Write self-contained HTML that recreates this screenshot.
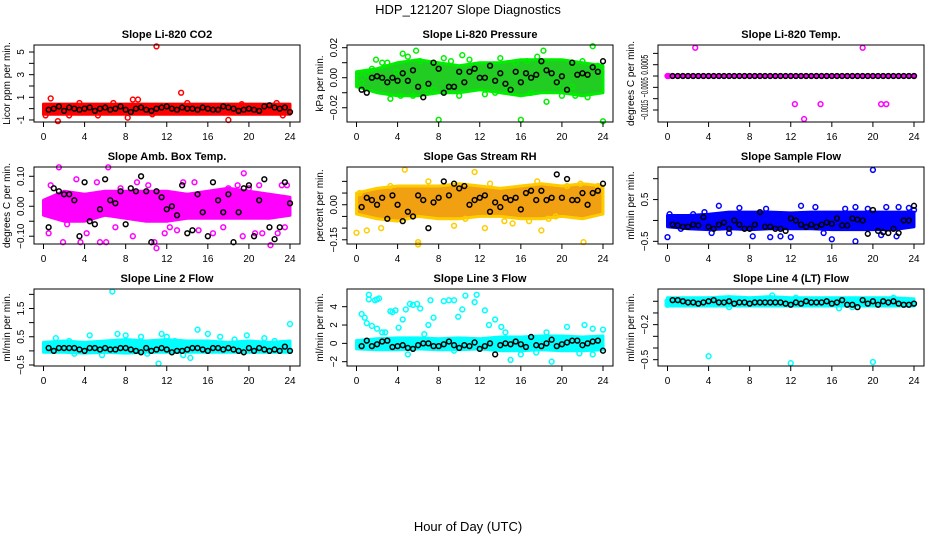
<!DOCTYPE html>
<html><head><meta charset="utf-8"><style>
body{margin:0;background:#fff;}
svg{display:block;font-family:"Liberation Sans",Arial,sans-serif;}
</style></head><body>
<svg id="chart" width="936" height="540" viewBox="0 0 936 540">
<text x="468" y="14" text-anchor="middle" font-size="13">HDP_121207  Slope Diagnostics</text>
<text x="468" y="531" text-anchor="middle" font-size="13">Hour of Day (UTC)</text>
</svg>
<script>
// ---- data ----
const blackHours=[0.5,1,1.5,2,2.5,3,3.5,4,4.5,5,5.5,6,6.5,7,7.5,8,8.5,9,9.5,10,10.5,11,11.5,12,12.5,13,13.5,14,14.5,15,15.5,16,16.5,17,17.5,18,18.5,19,19.5,20,20.5,21,21.5,22,22.5,23,23.5,24];
const bandHours=[0,2,4,6,8,10,12,14,16,18,20,22,24];
const xTicks=[0,4,8,12,16,20,24];

const p1Black=[-0.1,0,0.2,-0.2,0.1,0,-0.1,0,0.1,-0.2,0,0.1,-0.1,0,0.2,-0.1,-0.3,0,0.1,-0.1,-0.2,0,0.1,0.2,0,-0.1,0.1,0,0,-0.1,0.1,0,-0.1,-0.1,0.2,0.1,0,-0.2,-0.1,0,-0.1,-0.2,0.2,0.3,0.1,0,0.1,-0.3];
const p1BandLo=[-0.5,-0.5,-0.5,-0.5,-0.5,-0.5,-0.5,-0.5,-0.5,-0.5,-0.5,-0.5,-0.5];
const p1BandHi=[0.4,0.4,0.4,0.4,0.4,0.4,0.4,0.4,0.4,0.4,0.4,0.4,0.4];
const p1Hours=[11,13.4,1.4,18,0.7,8.7,9.2,8.2,2.5,5.3,0.2,23.3,10.6,14,19.3,22.7,3.5,6.8];
const p1Vals=[5.5,1.4,-1.1,-1,0.9,0.8,0.8,-0.8,-0.6,-0.6,-0.6,-0.6,-0.5,0.5,0.4,0.5,0.5,0.5];

const p2Black=[-0.008,-0.010,0.000,0.001,0.000,-0.003,0.000,-0.002,0.003,-0.002,0.005,-0.006,-0.013,-0.004,0.010,0.006,-0.010,-0.006,-0.006,0.004,-0.003,0.004,0.006,0.000,0.000,0.008,-0.002,0.003,-0.004,-0.008,0.004,-0.003,0.003,0.000,0.002,0.011,0.005,0.003,-0.003,0.001,-0.008,0.010,0.002,0.003,0.002,0.007,0.004,0.011];
const p2BandLo=[-0.006,-0.01,-0.012,-0.012,-0.01,-0.01,-0.008,-0.01,-0.012,-0.01,-0.01,-0.012,-0.01];
const p2BandHi=[0.004,0.006,0.01,0.012,0.01,0.008,0.01,0.01,0.012,0.012,0.012,0.01,0.008];
const p2Hours=[1.5,1.9,2.5,3.0,3.3,3.9,4.3,4.5,5.0,5.5,5.8,6.2,6.8,7.5,8,8.5,9.2,10,10.3,11,12.5,13.5,14,14.8,15.5,16,16.6,17,17.6,18.2,18.5,19.6,20,21,21.3,22,22.5,23,23.5,24,0.3,0.5,1.0];
const p2Vals=[0.006,0.012,0.010,0.010,-0.014,0.004,-0.012,0.016,0.014,-0.012,0.018,0.011,-0.007,-0.008,-0.028,0.013,0.011,-0.012,0.015,0.012,-0.011,-0.010,0.013,-0.008,0.010,-0.028,0.011,-0.010,0.014,0.018,-0.016,-0.004,-0.012,-0.006,-0.012,0.011,-0.013,0.021,0.008,-0.029,0.003,-0.003,0.002];

const p3Black=[0,0,0,0,0,0,0,0,0,0,0,0,0,0,0,0,0,0,0,0,0,0,0,0,0,0,0,0,0,0,0,0,0,0,0,0,0,0,0,0,0,0,0,0,0,0,0,0];
const p3BandLo=[-0.00002,-0.00002,-0.00002,-0.00002,-0.00002,-0.00002,-0.00002,-0.00002,-0.00002,-0.00002,-0.00002,-0.00002,-0.00002];
const p3BandHi=[0.00002,0.00002,0.00002,0.00002,0.00002,0.00002,0.00002,0.00002,0.00002,0.00002,0.00002,0.00002,0.00002];
const p3Hours=[0,0.1,2.7,19,12.4,14.9,20.8,21.3,13.3,24];
const p3Vals=[0,0,0.00125,0.00125,-0.00124,-0.00124,-0.00124,-0.00124,-0.0019,0];

const p4Black=[-0.07,0.06,0.05,0.04,0.04,0.02,-0.1,0.08,-0.05,-0.06,-0.01,0.09,0.02,0.01,0.05,-0.06,0.06,0.05,0.10,0.05,-0.12,0.05,0.03,-0.01,0,-0.03,0.07,-0.09,-0.08,0.04,-0.02,-0.10,0.08,0.02,-0.02,0.04,-0.12,-0.02,0.06,0.07,-0.10,0.02,0.09,-0.07,-0.11,-0.07,0.08,0.01];
const p4BandLo=[-0.03,-0.05,-0.05,-0.03,-0.04,-0.05,-0.05,-0.04,-0.04,-0.04,-0.04,-0.04,-0.03];
const p4BandHi=[0.02,0.05,0.04,0.05,0.05,0.05,0.05,0.04,0.05,0.06,0.05,0.04,0.03];
const p4Hours=[1.5,6.3,0.5,1.9,3.2,3.6,5.5,6.1,7.0,8.7,9.1,10.8,11,12.3,13.6,14.7,15.1,17.5,18.9,19.4,19.5,20.6,21,21.3,22.1,23.2,23.7,23.5,0.7,2.3,4.2,5.2,7.5,10.2,11.8,13,16.5,18,20,22.8];
const p4Vals=[0.13,0.13,-0.09,-0.12,0.09,-0.12,-0.12,-0.12,-0.07,-0.10,0.08,-0.12,-0.14,-0.07,0.08,0.08,-0.08,-0.07,0.07,-0.1,0.11,-0.09,0.07,-0.09,-0.13,0.07,0.07,-0.07,0.07,-0.06,-0.09,0.08,0.06,0.07,-0.09,-0.08,-0.09,0.06,0.06,-0.09];

const p5Black=[-0.01,0.03,0.02,0.0,0.03,-0.06,0.04,0.0,-0.07,-0.03,-0.05,0.04,0.02,-0.10,0.01,0.03,0.10,0.04,0.09,0.07,0.08,0.0,0.02,0.03,0.04,-0.03,0.01,-0.01,0.03,0.02,0.03,-0.02,0.05,0.06,0.02,0.06,0.02,0.03,0.13,0.03,0.11,0.02,0.02,0.05,0.0,0.05,0.06,0.09];
const p5BandLo=[-0.04,-0.06,-0.07,-0.05,-0.06,-0.06,-0.05,-0.05,-0.06,-0.06,-0.05,-0.06,-0.04];
const p5BandHi=[0.05,0.07,0.08,0.08,0.08,0.09,0.08,0.07,0.08,0.09,0.08,0.09,0.08];
const p5Hours=[0,0.3,6,6,4.7,11.5,3.3,2.4,1.0,7,12.5,13,14.4,17.6,18,18.7,19.4,20.5,21.8,22.1,23.5,9.5,10.6,15.2,16.8];
const p5Vals=[-0.12,0.05,-0.16,-0.17,0.15,0.14,0.08,-0.1,-0.11,0.1,-0.1,0.09,-0.07,0.10,-0.11,-0.06,-0.05,0.08,0.09,-0.16,0.08,-0.09,-0.06,-0.08,-0.07];

const p6Black=[-0.1,-0.12,-0.15,-0.15,-0.1,-0.12,0.08,-0.15,-0.2,-0.1,-0.05,-0.2,0.0,-0.1,-0.2,-0.2,-0.1,0.2,-0.15,-0.15,-0.2,-0.2,-0.25,0.05,0.0,-0.1,-0.15,-0.1,-0.15,-0.1,-0.05,-0.08,0.05,-0.12,-0.12,0.05,0.02,0.0,-0.32,0.25,-0.25,-0.28,-0.3,-0.2,-0.3,0.0,0.0,0.35];
const p6BandLo=[-0.15,-0.2,-0.22,-0.2,-0.22,-0.2,-0.2,-0.2,-0.22,-0.22,-0.22,-0.22,-0.15];
const p6BandHi=[0.12,0.12,0.15,0.2,0.2,0.2,0.18,0.2,0.2,0.2,0.2,0.2,0.2];
const p6Hours=[0,20,18.3,16,8.3,10,11,12,2.5,5,7,9.6,13,14.4,17.3,18.3,19.5,21.3,22.5,23.5,1.3,3.6,4.3,6,15.2,20.8,22.3,0.2,24];
const p6Vals=[-0.4,1.21,-0.5,-0.45,-0.38,-0.4,-0.38,-0.4,0.15,0.35,0.3,0.28,0.35,0.32,0.28,0.32,0.28,0.32,0.32,0.3,-0.2,0.2,-0.3,-0.3,-0.3,-0.35,-0.38,0.15,0.25];

const p7Black=[0.1,0.0,0.1,0.1,0.1,0.1,0.05,0.0,0.1,0.1,0.05,0.1,0.05,0.05,0.1,0.1,0.05,0.0,-0.05,0.1,0.0,0.05,0.1,0.05,-0.05,0.0,0.0,0.05,0.1,0.1,0.05,0.0,0.1,0.1,0.05,0.1,0.05,0.0,-0.05,0.1,0.0,0.1,0.05,0.0,0.05,0.0,0.15,0.0];
const p7BandLo=[-0.05,-0.05,-0.08,-0.05,-0.08,-0.05,-0.05,-0.05,-0.05,-0.05,-0.05,-0.05,-0.05];
const p7BandHi=[0.3,0.35,0.3,0.35,0.4,0.35,0.4,0.35,0.35,0.3,0.35,0.3,0.35];
const p7Hours=[6.7,24,11.2,14.3,9.5,11.5,12,15,16,4.5,7.2,8,10.1,12.8,13.6,19.8,21.5,18.6,17.2,5.7,1.2,2.5,3,22.5];
const p7Vals=[2.1,0.95,-0.45,-0.25,0.5,0.6,0.5,0.75,0.6,0.55,0.6,0.55,-0.1,0.35,-0.15,0.55,0.45,0.4,0.5,-0.15,0.45,0.35,-0.1,0.35];

const p8Black=[-0.3,0.3,-0.3,-0.1,0.2,0.3,-0.4,-0.3,-0.2,-0.5,-0.6,-0.2,0.0,0.0,-0.3,-0.3,-0.1,0.2,-0.2,-0.5,-0.2,-0.3,0.1,-0.6,-0.3,0.0,-1.2,-0.2,0.0,-0.1,0.2,-0.1,-0.4,0.7,-0.2,-0.3,0.0,0.4,-0.3,-0.1,0.1,0.3,0.3,-0.2,0.0,0.2,0.3,-0.8];
const p8BandLo=[-0.6,-0.7,-0.7,-0.6,-0.7,-0.7,-0.6,-0.8,-0.8,-0.7,-0.8,-0.8,-0.7];
const p8BandHi=[0.3,0.5,0.6,0.6,0.5,0.6,0.5,0.7,0.7,0.8,0.8,0.7,0.8];
const p8Hours=[0.5,0.8,1.2,1.2,1.8,2.0,2.2,1.0,1.5,2,2.5,2.8,3.3,3.5,3.8,4.1,4.5,4.8,5.2,5.5,5.9,6.2,6.6,7,7.2,7.5,8.5,9,9.5,9.9,10.3,10.6,11.5,11.7,12.5,12.9,13.5,14.1,14.5,15,16,17.5,19,20.5,22.2,23,24,5,9.5,18.5,21.7,23];
const p8Vals=[3.2,2.8,5.3,4.8,4.7,4.8,4.9,2.2,1.9,1.6,1.2,1.2,3.5,3.4,3.6,1.7,2.6,3.7,4.3,4.2,4.3,3.8,1.0,2.0,4.7,2.8,4.6,4.7,4.7,2.9,3.7,5.2,4.5,5.3,3.6,2.0,2.6,1.8,1.2,-1.8,-1.2,-1.0,-2.0,1.8,2.0,1.6,1.5,-1.2,-0.8,1.2,-1.1,-1.2];

const p9Black=[0.01,0.01,0.0,-0.01,-0.01,-0.02,-0.01,0.0,0.01,-0.01,-0.01,0.0,-0.02,-0.01,-0.01,-0.02,-0.01,-0.01,-0.01,-0.01,-0.01,-0.01,-0.02,-0.03,-0.01,-0.02,0.0,-0.01,-0.01,-0.01,0.0,-0.02,-0.01,0.01,-0.03,-0.03,-0.05,0.01,-0.02,0.0,-0.03,0.0,-0.01,0.0,-0.02,-0.03,-0.03,-0.02];
const p9BandLo=[-0.04,-0.04,-0.04,-0.04,-0.04,-0.04,-0.04,-0.04,-0.04,-0.04,-0.04,-0.04,-0.04];
const p9BandHi=[0.03,0.03,0.03,0.04,0.03,0.04,0.03,0.03,0.03,0.03,0.03,0.03,0.02];
const p9Hours=[4,12,20,10.2,12.5,16.7,6,0,0,18,22];
const p9Vals=[-0.47,-0.53,-0.52,0.05,0.03,-0.06,-0.05,0.0,-0.03,-0.05,0.03];

const p1YTicks=[-1,0,1,2,3,4,5], p1YLabels=["-1","","1","","3","","5"];
const p2YTicks=[-0.02,-0.01,0,0.01,0.02], p2YLabels=["\u22120.02","","0.00","","0.02"];
const p3YTicks=[-0.0015,-0.001,-0.0005,0,0.0005,0.001], p3YLabels=["\u22120.0015","","\u22120.0005","","0.0005",""];
const p4YTicks=[-0.1,-0.05,0,0.05,0.1], p4YLabels=["\u22120.10","","0.00","","0.10"];
const p5YTicks=[-0.15,-0.1,-0.05,0,0.05,0.1], p5YLabels=["\u22120.15","","","0.00","",""];
const p6YTicks=[-0.5,0,0.5,1.0], p6YLabels=["\u22120.5","","0.5",""];
const p7YTicks=[-0.5,0,0.5,1,1.5,2], p7YLabels=["\u22120.5","","0.5","","1.5",""];
const p8YTicks=[-2,0,2,4], p8YLabels=["\u22122","0","2","4"];
const p9YTicks=[-0.5,-0.4,-0.3,-0.2,-0.1,0], p9YLabels=["\u22120.5","","","\u22120.2","",""];

// ---- layout ----
const panels=[
 {name:"li820-co2",title:"Slope Li-820 CO2",ylab:"Licor ppm per min.",col:0,row:0,ymin:-1.18,ymax:5.62,color:"#ff0000",band:"#ff0000",hours:p1Hours,vals:p1Vals,black:p1Black,lo:p1BandLo,hi:p1BandHi,yt:p1YTicks,yl:p1YLabels},
 {name:"li820-pressure",title:"Slope Li-820 Pressure",ylab:"kPa per min.",col:1,row:0,ymin:-0.0295,ymax:0.0218,color:"#00ee00",band:"#22cc22",hours:p2Hours,vals:p2Vals,black:p2Black,lo:p2BandLo,hi:p2BandHi,yt:p2YTicks,yl:p2YLabels},
 {name:"li820-temp",title:"Slope Li-820 Temp.",ylab:"degrees C per min.",col:2,row:0,ymin:-0.00203,ymax:0.00137,color:"#ff00ff",band:"#ff00ff",hours:p3Hours,vals:p3Vals,black:p3Black,lo:p3BandLo,hi:p3BandHi,yt:p3YTicks,yl:p3YLabels},
 {name:"amb-box-temp",title:"Slope Amb. Box Temp.",ylab:"degrees C per min.",col:0,row:1,ymin:-0.126,ymax:0.131,color:"#ff00ff",band:"#ff00ff",hours:p4Hours,vals:p4Vals,black:p4Black,lo:p4BandLo,hi:p4BandHi,yt:p4YTicks,yl:p4YLabels},
 {name:"gas-stream-rh",title:"Slope Gas Stream RH",ylab:"percent per min.",col:1,row:1,ymin:-0.168,ymax:0.1615,color:"#ffcc00",band:"#f0a010",hours:p5Hours,vals:p5Vals,black:p5Black,lo:p5BandLo,hi:p5BandHi,yt:p5YTicks,yl:p5YLabels},
 {name:"sample-flow",title:"Slope Sample Flow",ylab:"ml/min per min.",col:2,row:1,ymin:-0.564,ymax:1.28,color:"#0000ff",band:"#0000ff",hours:p6Hours,vals:p6Vals,black:p6Black,lo:p6BandLo,hi:p6BandHi,yt:p6YTicks,yl:p6YLabels},
 {name:"line2-flow",title:"Slope Line 2 Flow",ylab:"ml/min per min.",col:0,row:2,ymin:-0.535,ymax:2.19,color:"#00ffff",band:"#00ffff",hours:p7Hours,vals:p7Vals,black:p7Black,lo:p7BandLo,hi:p7BandHi,yt:p7YTicks,yl:p7YLabels},
 {name:"line3-flow",title:"Slope Line 3 Flow",ylab:"ml/min per min.",col:1,row:2,ymin:-2.47,ymax:5.93,color:"#00ffff",band:"#00ffff",hours:p8Hours,vals:p8Vals,black:p8Black,lo:p8BandLo,hi:p8BandHi,yt:p8YTicks,yl:p8YLabels},
 {name:"line4-flow",title:"Slope Line 4 (LT) Flow",ylab:"ml/min per min.",col:2,row:2,ymin:-0.554,ymax:0.105,color:"#00ffff",band:"#00ffff",hours:p9Hours,vals:p9Vals,black:p9Black,lo:p9BandLo,hi:p9BandHi,yt:p9YTicks,yl:p9YLabels}
];
const lefts=[34,347,658], tops=[45,167,289], W=266, H=77;
const NS="http://www.w3.org/2000/svg";
const svg=document.getElementById('chart');
function mk(tag,attrs,parent){const e=document.createElementNS(NS,tag);for(const k in attrs)e.setAttribute(k,attrs[k]);(parent||svg).appendChild(e);return e;}

panels.forEach(p=>{
 const L=lefts[p.col],T=tops[p.row];
 const g=mk('g',{});
 
 
 const xs=h=>L+9.5+(h/24)*246.5;
 const ys=v=>T+H-(v-p.ymin)/(p.ymax-p.ymin)*H;
 const t=mk('text',{x:L+W/2,y:T-7,'text-anchor':'middle','font-size':11,'font-weight':'bold'},g);
 t.textContent=p.title;
 
 
 let pts=[];
 bandHours.forEach((h,i)=>pts.push(xs(h)+','+ys(p.hi[i])));
 for(let i=bandHours.length-1;i>=0;i--)pts.push(xs(bandHours[i])+','+ys(p.lo[i]));
 const band=mk('polygon',{points:pts.join(' '),fill:p.band,stroke:p.color,'stroke-width':3,'stroke-linejoin':'round'},g);
 
 
 p.hours.forEach((h,i)=>{
  const c=mk('circle',{cx:xs(h),cy:ys(p.vals[i]),r:2.4,fill:'none',stroke:p.color,'stroke-width':1.5},g);
  
  
 });
 blackHours.forEach((h,i)=>{
  const c=mk('circle',{cx:xs(h),cy:ys(p.black[i]),r:2.4,fill:'none',stroke:'#000','stroke-width':1.5},g);
  
  
 });
 const fr=mk('rect',{x:L,y:T,width:W,height:H,fill:'none',stroke:'#000','stroke-width':1},g);
 
 
 const xa=mk('g',{},g);
 
 
 mk('line',{x1:xs(0),x2:xs(24),y1:T+H,y2:T+H,stroke:'#000'},xa);
 xTicks.forEach(v=>{
  mk('line',{x1:xs(v),x2:xs(v),y1:T+H,y2:T+H+5,stroke:'#000'},xa);
  const tl=mk('text',{x:xs(v),y:T+H+18,'text-anchor':'middle','font-size':10},xa);
  tl.textContent=v;
  
  
 });
 const ya=mk('g',{},g);
 
 
 mk('line',{x1:L,x2:L,y1:ys(p.yt[0]),y2:ys(p.yt[p.yt.length-1]),stroke:'#000'},ya);
 p.yt.forEach((v,i)=>{
  const y=ys(v);
  mk('line',{x1:L-5,x2:L,y1:y,y2:y,stroke:'#000'},ya);
  if(p.yl[i]){
   const attrs={x:0,y:0,'text-anchor':'middle','font-size':10,transform:`translate(${L-10},${y}) rotate(-90)`};
   if(p.yl[i].length>5){attrs.textLength=20;attrs.lengthAdjust='spacingAndGlyphs';}
   const tl=mk('text',attrs,ya);
   tl.textContent=p.yl[i];
   
   
  }
 });
 const yl=mk('text',{x:0,y:0,'text-anchor':'middle','font-size':10,transform:`translate(${L-24},${T+H/2}) rotate(-90)`},g);
 yl.textContent=p.ylab;
 
 
});
</script>
</body></html>
